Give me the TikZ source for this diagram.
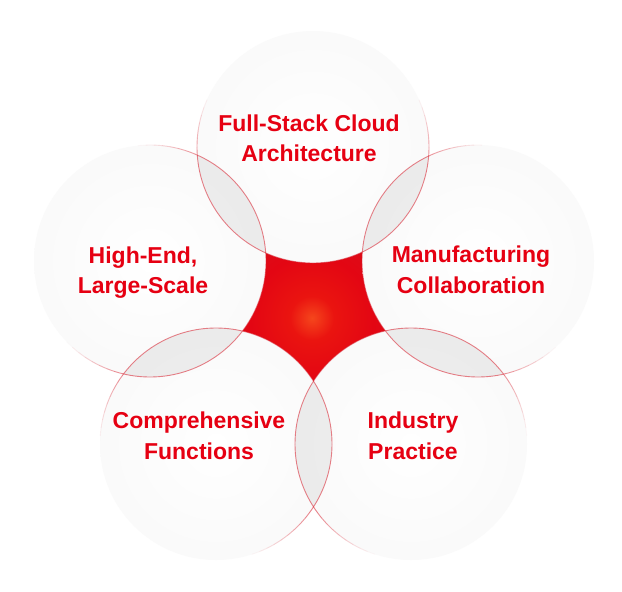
\documentclass[tikz,border=0pt]{standalone}
\usepackage{fontspec}
\setmainfont{Liberation Sans}
\definecolor{txtred}{HTML}{E60012}
\definecolor{bordred}{HTML}{D81E2C}
\definecolor{rc1}{HTML}{F5461C}
\definecolor{rc2}{HTML}{EA1410}
\definecolor{rc3}{HTML}{E30613}
\definecolor{rc4}{HTML}{D5111E}
\definecolor{rc5}{HTML}{CC121E}
\definecolor{dc1}{HTML}{FFFFFF}
\definecolor{dc2}{HTML}{F9F9F9}
\definecolor{dc3}{HTML}{F0F0F0}
\definecolor{gl1}{HTML}{F2F2F2}
\definecolor{gl2}{HTML}{F9F9F9}
\pgfdeclareradialshading{redstar}{\pgfpoint{0bp}{0bp}}{color(0bp)=(rc1); color(5bp)=(rc2); color(14bp)=(rc3); color(26bp)=(rc4); color(50bp)=(rc5)}
\pgfdeclareradialshading{disc}{\pgfpoint{0bp}{0bp}}{color(0bp)=(dc1); color(28bp)=(dc2); color(50bp)=(dc3)}
\pgfdeclareradialshading{glow}{\pgfpoint{0bp}{0bp}}{color(0bp)=(white); color(43.5bp)=(white); color(44bp)=(gl1); color(46.5bp)=(gl2); color(50bp)=(white)}
\tikzset{
  lbl/.style={text=txtred, font=\bfseries\fontsize{23}{30.5}\selectfont, align=center, inner sep=0pt},
  lens/.style={fill=black, fill opacity=0.06},
  rim/.style={draw=bordred, line width=0.9pt}
}
\begin{document}
\begin{tikzpicture}[x=1pt,y=-1pt]
\useasboundingbox (0,0) rectangle (622,592);
\fill[white] (0,0) rectangle (622,592);
\coordinate (cT) at (313,147);
\coordinate (cL) at (150,261);
\coordinate (cR) at (478,261);
\coordinate (cBL) at (216,444);
\coordinate (cBR) at (411,444);
\coordinate (cO) at (312,318);
% soft glow around the discs
\foreach \c in {cT,cL,cR,cBL,cBR}{
  \shade[shading=glow] (\c) circle (132);
}
% red centre
\shade[shading=redstar] (cO) circle (110);
% discs
\foreach \c in {cT,cL,cR,cBL,cBR}{
  \shade[shading=disc] (\c) circle (116);
}
% lens overlaps
\foreach \a/\b in {cT/cL,cT/cR,cL/cBL,cR/cBR,cBL/cBR}{
  \begin{scope}
    \clip (\a) circle (116);
    \fill[lens] (\b) circle (116);
  \end{scope}
}
% fading rims
\foreach \cx/\cy in {313/147,150/261,478/261,216/444,411/444}{
  \foreach \ang in {0,4,...,356}{
    \pgfmathsetmacro\px{\cx+116*cos(\ang+2)}
    \pgfmathsetmacro\py{\cy+116*sin(\ang+2)}
    \pgfmathsetmacro\dd{veclen(\px-312,\py-318)}
    \pgfmathsetmacro\op{max(0,min(0.55,0.55*(245-\dd)/50))}
    \draw[rim, draw opacity=\op] (\cx,\cy) ++(\ang:116) arc[start angle=\ang, end angle=\ang+4, radius=116];
  }
}
% labels
\node[lbl] (tFull) at (309,138.5) {Full-Stack Cloud\\Architecture};
\node[lbl] (tHigh) at (143,272.5) {High-End,\\Large-Scale};
\node[lbl] (tManu) at (471,270) {Manufacturing\\Collaboration};
\node[lbl] (tComp) at (199,436) {Comprehensive\\Functions};
\node[lbl] (tInd) at (413,436) {Industry\\Practice};
\end{tikzpicture}
\end{document}
